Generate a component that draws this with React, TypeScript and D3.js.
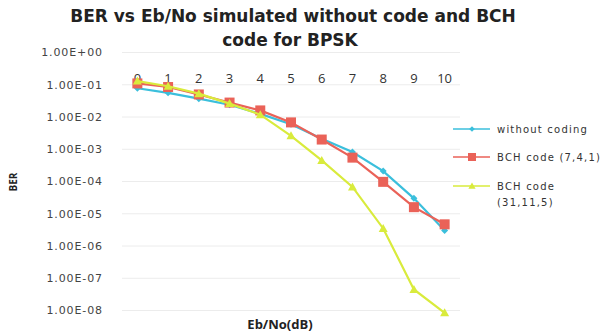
import React from "react";
import { scaleLog, scalePoint, line } from "d3";

const ebno = ["0", "1", "2", "3", "4", "5", "6", "7", "8", "9", "10"];
const withoutCoding = [0.078, 0.056, 0.037, 0.024, 0.0125, 0.006, 0.0021, 0.00082, 0.00021, 0.00003, 0.000003];
const bch741 = [0.11, 0.085, 0.05, 0.028, 0.016, 0.0068, 0.002, 0.00055, 0.0000975, 0.000016, 0.0000047];
const bch31115 = [0.13, 0.09, 0.053, 0.026, 0.0118, 0.0026, 0.00045, 0.000068, 0.0000035, 0.000000045, 0.0000000085];
const yTicks = [1, 1e-1, 1e-2, 1e-3, 1e-4, 1e-5, 1e-6, 1e-7, 1e-8];
const yTickLabels = ["1.00E+00", "1.00E-01", "1.00E-02", "1.00E-03", "1.00E-04", "1.00E-05", "1.00E-06", "1.00E-07", "1.00E-08"];

const series = [
  { name: ["without coding"], values: withoutCoding, color: "#3bbfdc", marker: "diamond" },
  { name: ["BCH code (7,4,1)"], values: bch741, color: "#ea6258", marker: "square" },
  { name: ["BCH code", "(31,11,5)"], values: bch31115, color: "#d9eb3c", marker: "triangle" },
];

const Marker = ({ type, x, y, color, s = 1 }: { type: string; x: number; y: number; color: string; s?: number }) => {
  if (type === "square") return <rect x={x - 5 * s} y={y - 5 * s} width={10 * s} height={10 * s} fill={color} />;
  if (type === "triangle")
    return <path d={`M${x},${y - 4.5 * s}L${x + 4.5 * s},${y + 3.5 * s}L${x - 4.5 * s},${y + 3.5 * s}Z`} fill={color} />;
  return <path d={`M${x},${y - 3.5 * s}L${x + 3.5 * s},${y}L${x},${y + 3.5 * s}L${x - 3.5 * s},${y}Z`} fill={color} />;
};

export default function App() {
  const width = 606;
  const height = 332;
  const left = 122;
  const right = 460;
  const top = 52.5;
  const bottom = 310.5;

  const xScale = scalePoint().domain(ebno).range([left, right]).padding(0.5);
  const yScale = scaleLog().domain([1, 1e-8]).range([top, bottom]);

  const sans = "'Open Sans', 'DejaVu Sans', sans-serif";
  const wide = "'DejaVu Sans', sans-serif";

  return (
    <svg
      width={width}
      height={height}
      style={{ position: "absolute", left: 0, top: 0, background: "#fff" }}
      fontFamily={sans}
    >
      <text x={293} y={22} textAnchor="middle" fontSize={17} fontWeight="bold" fill="#222" fontFamily={wide}>
        BER vs Eb/No simulated without code and BCH
      </text>
      <text x={290} y={45.5} textAnchor="middle" fontSize={17} fontWeight="bold" fill="#222" fontFamily={wide}>
        code for BPSK
      </text>

      {yTicks.map((t, i) => (
        <g key={i}>
          <line x1={left} x2={right} y1={yScale(t)} y2={yScale(t)} stroke="#ececec" />
          <text
            x={103}
            y={yScale(t)}
            dy="0.35em"
            textAnchor="end"
            fontSize={11}
            fill="#444"
            fontFamily={wide}
            letterSpacing={0.9}
          >
            {yTickLabels[i]}
          </text>
        </g>
      ))}

      {ebno.map((d) => (
        <text key={d} x={xScale(d)} y={83} textAnchor="middle" fontSize={13} fill="#333">
          {d}
        </text>
      ))}

      {series.map((s) => {
        const path = line<number>()
          .x((_, i) => xScale(ebno[i]) as number)
          .y((v) => yScale(v))(s.values);
        return (
          <g key={s.name[0]}>
            <path d={path ?? ""} fill="none" stroke={s.color} strokeWidth={2.2} />
            {s.values.map((v, i) => (
              <Marker key={i} type={s.marker} x={xScale(ebno[i]) as number} y={yScale(v)} color={s.color} />
            ))}
          </g>
        );
      })}

      {series.map((s, i) => {
        const ly = [129, 157, 186][i];
        return (
          <g key={s.name[0]}>
            <line x1={453} x2={490} y1={ly} y2={ly} stroke={s.color} strokeWidth={1.5} />
            <Marker type={s.marker} x={472} y={ly} color={s.color} s={0.8} />
            {s.name.map((n, j) => (
              <text
                key={j}
                x={497}
                y={ly + j * 16}
                dy="0.35em"
                fontSize={10}
                fill="#333"
                fontFamily={wide}
                letterSpacing={1.2}
              >
                {n}
              </text>
            ))}
          </g>
        );
      })}

      <text
        transform="translate(17,182) rotate(-90)"
        textAnchor="middle"
        fontSize={10}
        fontWeight="bold"
        fill="#222"
      >
        BER
      </text>
      <text x={280} y={329} textAnchor="middle" fontSize={13} fontWeight="bold" fill="#222">
        Eb/No(dB)
      </text>
    </svg>
  );
}
